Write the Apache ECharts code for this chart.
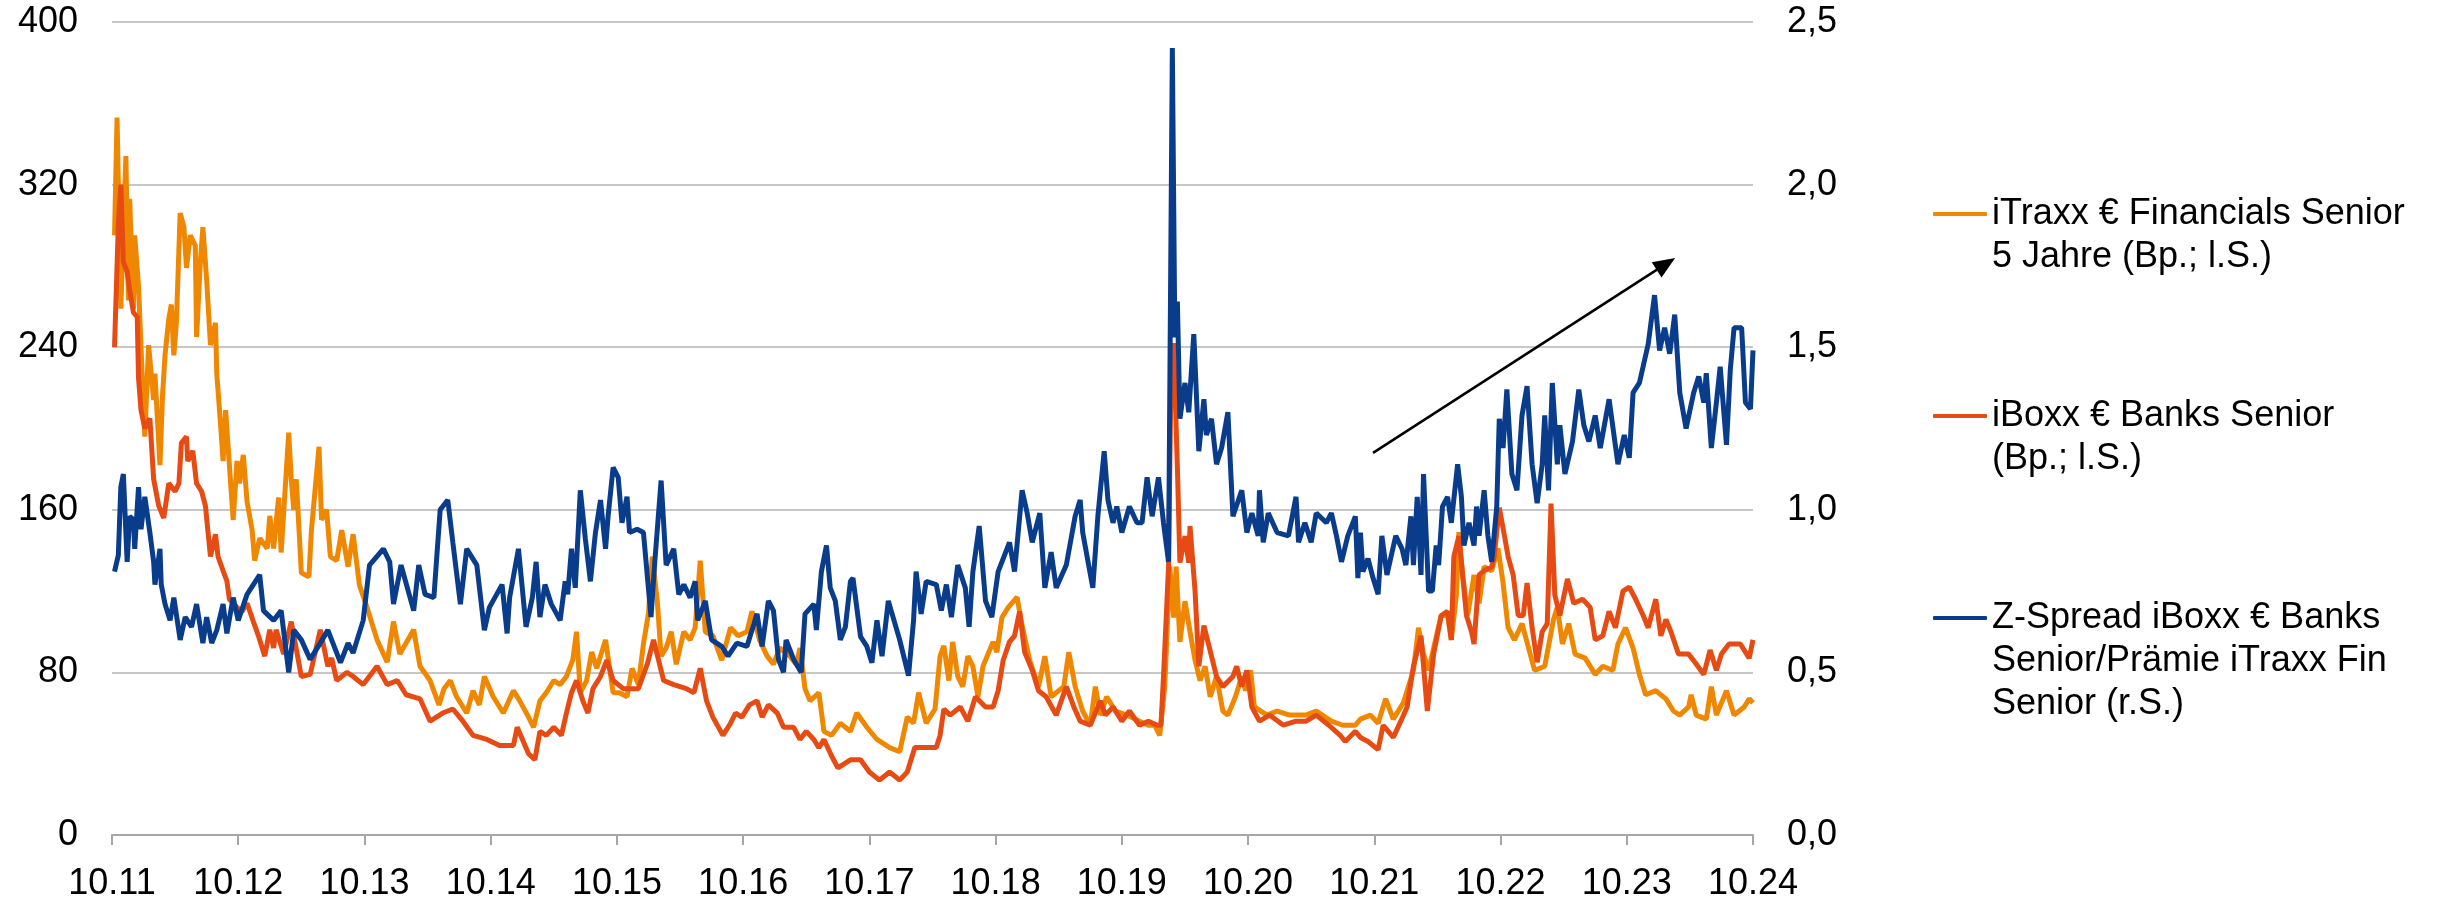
<!DOCTYPE html>
<html>
<head>
<meta charset="utf-8">
<title>Spreads Banken</title>
<script src="https://cdn.jsdelivr.net/npm/echarts@6/dist/echarts.min.js"></script>
<style>
  html, body { margin: 0; padding: 0; background: #fff; }
  #chart { width: 2448px; height: 897px; }
</style>
</head>
<body>
<div id="chart"></div>
<script>
// x = Jahre seit Oktober 2011 (0 = 10.11, 13 = 10.24)
const tickLabels = ['10.11', '10.12', '10.13', '10.14', '10.15', '10.16', '10.17',
  '10.18', '10.19', '10.20', '10.21', '10.22', '10.23', '10.24'];

const seriesNames = [
  'iTraxx € Financials Senior 5 Jahre (Bp.; l.S.)',
  'iBoxx € Banks Senior (Bp.; l.S.)',
  'Z-Spread iBoxx € Banks Senior/Prämie iTraxx Fin Senior (r.S.)'
];
const legendLines = [
  ['iTraxx € Financials Senior', '5 Jahre (Bp.; l.S.)'],
  ['iBoxx € Banks Senior', '(Bp.; l.S.)'],
  ['Z-Spread iBoxx € Banks', 'Senior/Prämie iTraxx Fin', 'Senior (r.S.)']
];

// iTraxx € Financials Senior 5J, Bp. (linke Skala)
const itraxxFin = [
  [0.02,295],[0.04,353],[0.07,259],[0.11,334],[0.13,263],[0.14,313],[0.17,259],[0.18,295],[0.21,270],[0.24,225],
  [0.26,196],[0.29,241],[0.33,214],[0.34,227],[0.38,182],[0.40,216],[0.42,236],[0.45,254],[0.47,261],[0.49,236],
  [0.51,252],[0.54,306],[0.57,299],[0.59,279],[0.62,295],[0.66,290],[0.67,245],[0.70,282],[0.72,299],[0.75,273],
  [0.78,241],[0.82,252],[0.83,227],[0.86,202],[0.88,184],[0.90,209],[0.93,182],[0.96,155],[0.99,184],[1.01,173],
  [1.04,187],[1.07,164],[1.11,150],[1.13,135],[1.17,146],[1.23,141],[1.25,157],[1.28,141],[1.32,166],[1.34,139],
  [1.40,198],[1.42,175],[1.44,160],[1.46,175],[1.50,129],[1.56,127],[1.58,150],[1.64,191],[1.66,155],[1.70,160],
  [1.73,137],[1.78,135],[1.82,150],[1.87,132],[1.91,148],[1.96,123],[2.02,112],[2.10,96],[2.18,85],[2.23,105],
  [2.28,89],[2.39,101],[2.44,83],[2.52,76],[2.59,64],[2.63,72],[2.68,76],[2.73,68],[2.81,60],[2.86,71],
  [2.91,64],[2.95,78],[3.02,68],[3.10,60],[3.18,71],[3.23,66],[3.30,58],[3.34,53],[3.39,66],[3.44,70],
  [3.50,76],[3.55,74],[3.60,78],[3.65,86],[3.68,100],[3.71,70],[3.76,76],[3.80,90],[3.84,82],[3.91,96],
  [3.97,70],[4.02,70],[4.08,68],[4.12,82],[4.17,74],[4.21,94],[4.25,109],[4.28,137],[4.32,115],[4.35,88],
  [4.39,92],[4.43,100],[4.47,84],[4.53,100],[4.58,96],[4.62,102],[4.66,135],[4.70,100],[4.76,98],[4.83,86],
  [4.90,102],[4.96,98],[5.03,100],[5.07,110],[5.13,96],[5.19,88],[5.24,84],[5.29,92],[5.37,88],[5.42,84],
  [5.45,92],[5.49,72],[5.53,66],[5.60,70],[5.64,51],[5.70,49],[5.77,55],[5.85,51],[5.90,60],[5.98,53],
  [6.06,47],[6.16,43],[6.24,41],[6.30,58],[6.35,55],[6.39,70],[6.45,55],[6.52,62],[6.56,88],[6.59,93],
  [6.63,76],[6.66,95],[6.70,78],[6.74,73],[6.78,88],[6.82,83],[6.86,68],[6.90,83],[6.98,95],[7.01,90],
  [7.05,107],[7.10,112],[7.17,117],[7.21,103],[7.27,86],[7.34,73],[7.39,88],[7.44,68],[7.54,73],[7.58,90],
  [7.63,73],[7.69,61],[7.75,54],[7.79,73],[7.83,59],[7.88,68],[7.95,61],[8.04,59],[8.14,56],[8.21,54],
  [8.26,54],[8.30,49],[8.34,73],[8.38,132],[8.41,107],[8.43,132],[8.46,95],[8.50,115],[8.54,100],[8.58,86],
  [8.62,76],[8.66,83],[8.70,68],[8.75,78],[8.80,61],[8.84,59],[8.90,68],[8.95,78],[8.98,71],[9.02,81],
  [9.05,63],[9.15,59],[9.23,61],[9.33,59],[9.46,59],[9.54,61],[9.66,56],[9.75,54],[9.85,54],[9.89,57],
  [9.97,59],[10.03,55],[10.09,67],[10.15,57],[10.23,65],[10.31,81],[10.35,102],[10.39,89],[10.43,81],[10.47,92],
  [10.53,108],[10.58,108],[10.61,96],[10.65,118],[10.67,149],[10.70,128],[10.74,108],[10.79,128],[10.83,114],[10.87,132],
  [10.93,130],[10.98,141],[11.02,124],[11.06,102],[11.11,96],[11.17,104],[11.27,81],[11.35,83],[11.42,106],[11.45,112],
  [11.49,94],[11.54,104],[11.59,89],[11.67,87],[11.75,79],[11.81,83],[11.89,81],[11.93,94],[11.99,102],[12.05,92],
  [12.10,79],[12.15,69],[12.23,71],[12.31,67],[12.37,61],[12.42,59],[12.49,63],[12.51,69],[12.55,59],[12.63,57],
  [12.67,73],[12.71,59],[12.79,71],[12.85,59],[12.93,63],[12.97,67],[13.00,65]
];

// iBoxx € Banks Senior, Bp. (linke Skala)
const iboxxBanks = [
  [0.02,240],[0.05,300],[0.07,320],[0.09,282],[0.12,277],[0.14,268],[0.17,257],[0.20,255],[0.21,225],[0.23,209],
  [0.26,200],[0.30,205],[0.33,175],[0.37,162],[0.41,156],[0.45,173],[0.50,169],[0.53,173],[0.55,193],[0.59,196],
  [0.60,184],[0.64,189],[0.67,173],[0.71,169],[0.74,162],[0.78,137],[0.82,148],[0.84,137],[0.88,130],[0.91,125],
  [0.93,116],[0.99,112],[1.03,110],[1.07,114],[1.12,105],[1.16,98],[1.21,88],[1.25,101],[1.28,92],[1.30,101],
  [1.36,89],[1.42,105],[1.50,78],[1.57,79],[1.65,101],[1.71,83],[1.74,87],[1.78,76],[1.86,80],[1.91,78],
  [1.99,74],[2.10,83],[2.18,74],[2.26,76],[2.33,69],[2.44,67],[2.52,56],[2.62,60],[2.70,62],[2.78,56],
  [2.86,49],[2.97,47],[3.07,44],[3.18,44],[3.21,53],[3.30,40],[3.35,37],[3.39,51],[3.44,49],[3.50,53],
  [3.56,49],[3.60,60],[3.64,70],[3.68,76],[3.73,66],[3.77,60],[3.81,72],[3.87,78],[3.92,86],[3.97,76],
  [4.05,72],[4.10,72],[4.17,72],[4.24,84],[4.29,96],[4.33,86],[4.37,76],[4.45,74],[4.55,72],[4.61,70],
  [4.66,82],[4.71,66],[4.76,58],[4.84,49],[4.90,55],[4.94,60],[4.99,58],[5.05,64],[5.11,66],[5.15,58],
  [5.20,64],[5.27,60],[5.32,53],[5.40,53],[5.45,47],[5.50,51],[5.56,47],[5.60,43],[5.64,47],[5.70,39],
  [5.75,33],[5.85,37],[5.93,37],[6.00,31],[6.08,27],[6.16,31],[6.24,27],[6.30,31],[6.36,43],[6.45,43],
  [6.53,43],[6.56,49],[6.59,62],[6.64,59],[6.72,63],[6.78,56],[6.84,68],[6.92,63],[6.98,63],[7.02,71],
  [7.06,86],[7.11,95],[7.15,98],[7.19,110],[7.23,90],[7.29,81],[7.34,71],[7.40,68],[7.48,59],[7.56,73],
  [7.62,63],[7.67,56],[7.75,54],[7.83,66],[7.87,59],[7.93,63],[8.00,56],[8.06,61],[8.14,54],[8.21,56],
  [8.28,54],[8.31,54],[8.33,78],[8.37,132],[8.39,230],[8.41,242],[8.44,181],[8.46,134],[8.50,147],[8.53,134],
  [8.54,152],[8.58,120],[8.61,83],[8.65,103],[8.69,93],[8.75,78],[8.80,73],[8.88,78],[8.91,83],[8.95,73],
  [8.99,81],[9.03,63],[9.09,56],[9.17,59],[9.28,54],[9.38,56],[9.46,56],[9.54,59],[9.64,54],[9.73,49],
  [9.77,46],[9.85,51],[9.89,48],[9.95,46],[10.03,42],[10.07,54],[10.15,48],[10.21,56],[10.26,63],[10.31,83],
  [10.37,98],[10.42,61],[10.47,89],[10.53,108],[10.58,110],[10.61,96],[10.63,137],[10.67,147],[10.73,108],[10.77,100],
  [10.79,94],[10.83,128],[10.87,130],[10.93,132],[10.95,137],[10.99,161],[11.02,151],[11.06,137],[11.10,128],[11.14,108],
  [11.18,108],[11.21,124],[11.25,102],[11.29,85],[11.33,100],[11.37,104],[11.40,163],[11.43,118],[11.47,108],[11.53,126],
  [11.58,114],[11.65,116],[11.71,112],[11.75,96],[11.81,98],[11.86,110],[11.91,102],[11.97,120],[12.02,122],[12.07,116],
  [12.13,108],[12.17,102],[12.23,116],[12.27,98],[12.31,106],[12.35,100],[12.41,89],[12.49,89],[12.54,85],[12.61,79],
  [12.66,91],[12.71,81],[12.75,89],[12.81,94],[12.90,94],[12.97,87],[13.00,96]
];

// Z-Spread iBoxx / Prämie iTraxx, Verhältnis (rechte Skala)
const zSpread = [
  [0.02,0.81],[0.05,0.86],[0.07,1.07],[0.09,1.11],[0.12,0.84],[0.14,0.98],[0.17,0.97],[0.18,0.88],[0.21,1.07],[0.23,0.94],
  [0.26,1.04],[0.30,0.93],[0.33,0.84],[0.34,0.77],[0.38,0.88],[0.39,0.77],[0.42,0.71],[0.46,0.66],[0.49,0.73],[0.54,0.60],
  [0.58,0.67],[0.63,0.64],[0.67,0.71],[0.72,0.59],[0.75,0.67],[0.79,0.59],[0.83,0.63],[0.88,0.71],[0.91,0.62],[0.96,0.73],
  [1.00,0.66],[1.07,0.74],[1.17,0.80],[1.20,0.69],[1.28,0.66],[1.34,0.69],[1.40,0.50],[1.44,0.63],[1.50,0.60],[1.57,0.54],
  [1.65,0.59],[1.71,0.63],[1.81,0.53],[1.87,0.59],[1.91,0.56],[1.99,0.66],[2.04,0.83],[2.15,0.88],[2.20,0.84],[2.23,0.71],
  [2.29,0.83],[2.39,0.69],[2.43,0.83],[2.48,0.74],[2.55,0.73],[2.57,0.84],[2.60,1.00],[2.66,1.03],[2.70,0.90],[2.76,0.71],
  [2.81,0.88],[2.89,0.83],[2.95,0.63],[2.99,0.70],[3.09,0.77],[3.13,0.62],[3.15,0.73],[3.22,0.88],[3.28,0.64],[3.33,0.73],
  [3.36,0.84],[3.39,0.67],[3.43,0.77],[3.48,0.71],[3.55,0.66],[3.59,0.78],[3.61,0.74],[3.64,0.88],[3.67,0.76],[3.71,1.06],
  [3.75,0.91],[3.79,0.78],[3.83,0.93],[3.87,1.03],[3.91,0.88],[3.93,0.98],[3.97,1.13],[4.01,1.10],[4.04,0.96],[4.08,1.04],
  [4.10,0.93],[4.16,0.94],[4.21,0.93],[4.27,0.67],[4.30,0.84],[4.35,1.09],[4.39,0.83],[4.45,0.88],[4.49,0.74],[4.53,0.77],
  [4.58,0.73],[4.62,0.78],[4.64,0.66],[4.70,0.72],[4.75,0.60],[4.83,0.58],[4.88,0.55],[4.95,0.59],[5.03,0.58],[5.11,0.68],
  [5.15,0.58],[5.20,0.72],[5.24,0.69],[5.28,0.54],[5.32,0.50],[5.34,0.60],[5.40,0.54],[5.46,0.50],[5.49,0.68],[5.56,0.71],
  [5.58,0.63],[5.62,0.81],[5.66,0.89],[5.69,0.76],[5.73,0.72],[5.77,0.60],[5.81,0.64],[5.85,0.78],[5.87,0.79],[5.93,0.61],
  [5.98,0.58],[6.02,0.53],[6.06,0.66],[6.10,0.55],[6.15,0.72],[6.24,0.60],[6.31,0.49],[6.35,0.66],[6.37,0.81],[6.41,0.68],
  [6.45,0.78],[6.53,0.77],[6.57,0.69],[6.61,0.77],[6.65,0.67],[6.70,0.83],[6.76,0.76],[6.79,0.64],[6.82,0.81],[6.87,0.95],
  [6.92,0.72],[6.97,0.67],[7.02,0.81],[7.07,0.86],[7.11,0.90],[7.15,0.81],[7.21,1.06],[7.25,0.99],[7.29,0.90],[7.35,0.99],
  [7.39,0.76],[7.44,0.87],[7.48,0.76],[7.56,0.83],[7.63,0.98],[7.67,1.03],[7.69,0.93],[7.77,0.76],[7.81,0.98],[7.86,1.18],
  [7.89,1.03],[7.93,0.96],[7.96,1.01],[8.00,0.93],[8.06,1.01],[8.12,0.96],[8.16,0.96],[8.20,1.10],[8.24,0.98],[8.29,1.10],
  [8.33,0.96],[8.37,0.84],[8.40,2.42],[8.42,1.53],[8.44,1.64],[8.46,1.28],[8.50,1.39],[8.53,1.30],[8.57,1.54],[8.61,1.18],
  [8.65,1.34],[8.67,1.23],[8.71,1.28],[8.75,1.14],[8.79,1.19],[8.84,1.30],[8.88,0.98],[8.95,1.06],[8.99,0.93],[9.03,0.99],
  [9.08,0.92],[9.09,1.06],[9.12,0.90],[9.16,0.99],[9.23,0.93],[9.32,0.92],[9.38,1.04],[9.40,0.90],[9.45,0.96],[9.50,0.90],
  [9.54,0.99],[9.62,0.96],[9.66,0.99],[9.70,0.92],[9.74,0.84],[9.79,0.92],[9.85,0.98],[9.87,0.79],[9.89,0.93],[9.91,0.81],
  [9.95,0.85],[9.99,0.79],[10.03,0.74],[10.06,0.92],[10.10,0.80],[10.17,0.92],[10.22,0.88],[10.25,0.83],[10.29,0.98],[10.31,0.83],
  [10.34,1.04],[10.37,0.80],[10.39,1.11],[10.43,0.75],[10.46,0.75],[10.49,0.89],[10.51,0.83],[10.54,1.01],[10.58,1.04],[10.61,0.96],
  [10.66,1.14],[10.69,1.04],[10.71,0.89],[10.75,0.96],[10.79,0.89],[10.81,1.01],[10.83,0.92],[10.87,1.06],[10.90,0.92],[10.93,0.84],
  [10.97,1.01],[10.99,1.28],[11.02,1.19],[11.05,1.37],[11.09,1.11],[11.13,1.06],[11.17,1.29],[11.21,1.38],[11.25,1.14],[11.29,1.02],
  [11.33,1.14],[11.35,1.29],[11.38,1.06],[11.41,1.39],[11.45,1.14],[11.47,1.26],[11.51,1.11],[11.57,1.21],[11.62,1.37],[11.66,1.26],
  [11.70,1.21],[11.75,1.29],[11.79,1.19],[11.86,1.34],[11.93,1.14],[11.98,1.23],[12.02,1.16],[12.05,1.36],[12.10,1.39],[12.17,1.51],
  [12.22,1.66],[12.26,1.49],[12.30,1.56],[12.34,1.48],[12.38,1.60],[12.42,1.36],[12.47,1.25],[12.53,1.36],[12.57,1.41],[12.61,1.33],
  [12.63,1.42],[12.67,1.19],[12.71,1.33],[12.74,1.44],[12.79,1.20],[12.82,1.43],[12.85,1.56],[12.91,1.56],[12.94,1.33],[12.98,1.31],
  [13.00,1.49]
];

// Trendpfeil (Start/Ende in Achsenwerten, linke Skala)
const arrowFrom = [9.99, 188];
const arrowTo = [12.31, 281];

const colors = ['#F08700', '#E64B14', '#0A3C8C'];
const font = '"Liberation Sans", Arial, sans-serif';
const legendLineHeight = 43;

let myChart = echarts.init(document.getElementById('chart'));

// one legend per entry; empty lines in front keep the first text line level with the marker
function legendItem(i, markerY) {
  const lines = legendLines[i];
  const pad = new Array(lines.length - 1).fill(' ');
  const blockHeight = (2 * lines.length - 1) * legendLineHeight;
  return {
    data: [seriesNames[i]],
    left: 1933,
    top: markerY - blockHeight / 2,
    orient: 'vertical',
    padding: 0,
    icon: 'roundRect',
    itemWidth: 54,
    itemHeight: 4,
    selectedMode: false,
    formatter: () => pad.concat(lines).join('\n'),
    textStyle: {
      fontFamily: font,
      fontSize: 36,
      lineHeight: legendLineHeight,
      color: '#000'
    }
  };
}

let option = {
  animation: false,
  color: colors,
  grid: {
    left: 112,
    right: 695,
    top: 22,
    bottom: 62,
    containLabel: false,
    outerBoundsMode: 'none'
  },
  legend: [
    legendItem(0, 214),
    legendItem(1, 416),
    legendItem(2, 618)
  ],
  xAxis: {
    type: 'value',
    min: 0,
    max: 13,
    interval: 1,
    axisLine: { lineStyle: { color: '#a6a6a6', width: 2 } },
    axisTick: { show: true, length: 10, lineStyle: { color: '#a6a6a6', width: 2 } },
    splitLine: { show: false },
    axisLabel: {
      margin: 31,
      fontFamily: font,
      fontSize: 36,
      color: '#000',
      formatter: v => tickLabels[v]
    }
  },
  yAxis: [
    {
      type: 'value',
      min: 0,
      max: 400,
      interval: 80,
      axisLine: { show: false },
      axisTick: { show: false },
      splitLine: { lineStyle: { color: '#b4b4b4', width: 1.5 } },
      axisLabel: { margin: 34, fontFamily: font, fontSize: 36, color: '#000' }
    },
    {
      type: 'value',
      min: 0,
      max: 2.5,
      interval: 0.5,
      axisLine: { show: false },
      axisTick: { show: false },
      splitLine: { show: false },
      axisLabel: {
        margin: 34,
        fontFamily: font,
        fontSize: 36,
        color: '#000',
        formatter: v => v.toFixed(1).replace('.', ',')
      }
    }
  ],
  series: [
    {
      name: seriesNames[0],
      type: 'line',
      yAxisIndex: 0,
      symbol: 'none',
      lineStyle: { width: 5 },
      data: itraxxFin,
      markLine: {
        silent: true,
        symbol: ['none', 'triangle'],
        symbolSize: [18, 22],
        label: { show: false },
        lineStyle: { color: '#000', width: 2.5, type: 'solid' },
        itemStyle: { color: '#000' },
        data: [[{ coord: arrowFrom }, { coord: arrowTo }]]
      }
    },
    {
      name: seriesNames[1],
      type: 'line',
      yAxisIndex: 0,
      symbol: 'none',
      lineStyle: { width: 5 },
      data: iboxxBanks
    },
    {
      name: seriesNames[2],
      type: 'line',
      yAxisIndex: 1,
      symbol: 'none',
      lineStyle: { width: 5 },
      data: zSpread
    }
  ]
};

myChart.setOption(option, true);
</script>
</body>
</html>
